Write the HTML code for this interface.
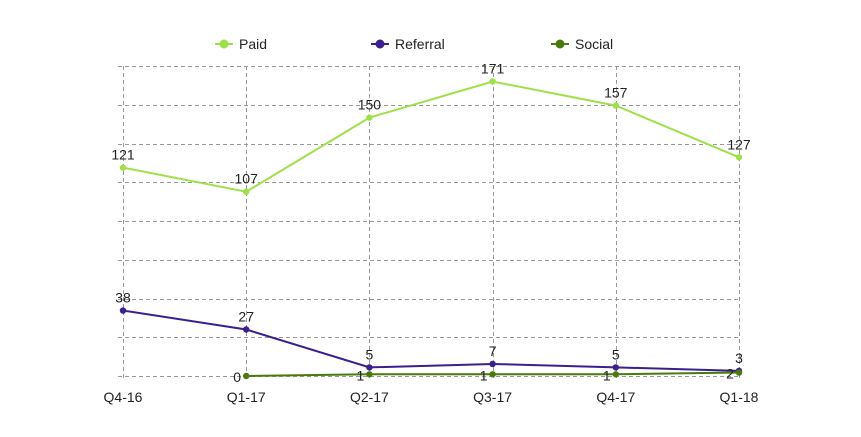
<!DOCTYPE html>
<html><head><meta charset="utf-8"><style>
body{margin:0;background:#fff;}
svg{display:block;font-family:"Liberation Sans",Arial,sans-serif;}
</style></head><body>
<svg id="chart" width="861" height="437" viewBox="0 0 861 437" xmlns="http://www.w3.org/2000/svg">
<g id="grid"></g>
<g id="xlabels"></g>
<g id="series"></g>
<g id="legend"></g>
</svg>
<script>
const categories=["Q4-16","Q1-17","Q2-17","Q3-17","Q4-17","Q1-18"];
const paid=[121,107,150,171,157,127];
const referral=[38,27,5,7,5,3];
const social=[null,0,1,1,1,2];
const seriesNames=["Paid","Referral","Social"];
const yMax=180, yTicks=8;
const NS="http://www.w3.org/2000/svg";
const x0=123,x1=739,yTop=66,yBot=376;
const xs=i=>x0+(x1-x0)*i/(categories.length-1);
const ys=v=>yBot-(yBot-yTop)*v/yMax;
function mk(tag,attrs,parent){const e=document.createElementNS(NS,tag);for(const k in attrs)e.setAttribute(k,attrs[k]);parent.appendChild(e);return e;}
const grid=document.getElementById('grid');
for(let t=0;t<=yTicks;t++){const y=Math.round(ys(yMax*t/yTicks))+0.5;
 const l=mk('line',{x1:118,x2:x1,y1:y,y2:y,stroke:'#999','stroke-dasharray':'4,3','stroke-width':1},grid);
 
 }
const xl=document.getElementById('xlabels');
categories.forEach((c,i)=>{const x=Math.round(xs(i))+0.5;
 const l=mk('line',{x1:x,x2:x,y1:yTop,y2:yBot+4,stroke:'#999','stroke-dasharray':'4,3','stroke-width':1},grid);
 
 
 const t=mk('text',{x:xs(i),y:402,'text-anchor':'middle','font-size':14,fill:'#222'},xl);t.textContent=c;
 
 });
const sg=document.getElementById('series');
function draw(data,color,name,below){
 const g=mk('g',{},sg);
 
 
 const pts=[];data.forEach((v,i)=>{if(v!==null)pts.push([xs(i),ys(v),v]);});
 const p=mk('polyline',{points:pts.map(q=>q[0]+','+q[1]).join(' '),fill:'none',stroke:color,'stroke-width':2},g);
 
 
 pts.forEach(q=>{const c=mk('circle',{cx:q[0],cy:q[1],r:3.2,fill:color},g);
  
  
  const t=mk('text',{x:below?q[0]-9:q[0],y:below?q[1]+6:q[1]-8,'text-anchor':'middle','font-size':14,fill:'#222'},g);t.textContent=q[2];
  
  });
}
draw(paid,'#9ee048','paid',false);
draw(referral,'#3a1f8f','referral',false);
draw(social,'#4a7a0c','social',true);
const lg=document.getElementById('legend');
const lcolors=['#9ee048','#3a1f8f','#4a7a0c'];const lx=[224,380,560];
seriesNames.forEach((n,i)=>{const g=mk('g',{},lg);
 
 
 mk('line',{x1:lx[i]-9,x2:lx[i]+9,y1:44,y2:44,stroke:lcolors[i],'stroke-width':2},g);
 mk('circle',{cx:lx[i],cy:44,r:4.5,fill:lcolors[i]},g);
 const t=mk('text',{x:lx[i]+15,y:49,'font-size':14,fill:'#222'},g);t.textContent=n;});
</script>
</body></html>
